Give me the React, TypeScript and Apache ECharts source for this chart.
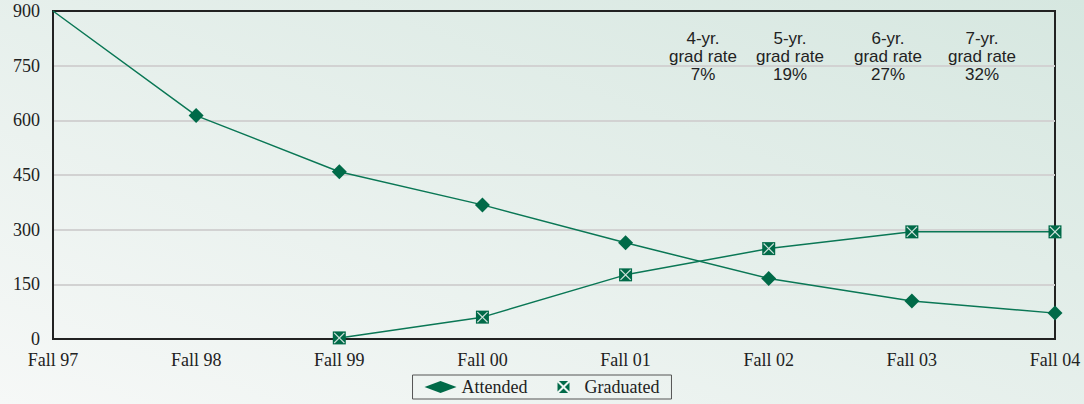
import React, { useEffect, useRef } from "react";
import * as echarts from "echarts";

const categories = ["Fall 97", "Fall 98", "Fall 99", "Fall 00", "Fall 01", "Fall 02", "Fall 03", "Fall 04"];
const attended = [900, 613, 459, 368, 264, 166, 104, 71];
const graduated = [null, null, 3, 60, 176, 248, 294, 294];
const yTicks = { min: 0, max: 900, interval: 150 };
const rateNotes = [
  { text: "4-yr.\ngrad rate\n7%", cx: 703 },
  { text: "5-yr.\ngrad rate\n19%", cx: 790 },
  { text: "6-yr.\ngrad rate\n27%", cx: 888 },
  { text: "7-yr.\ngrad rate\n32%", cx: 982 },
];

const GREEN = "#0a7755";
const MARK = "#006a48";
const legendSquare =
  "path://M1.2,0L8.8,0L5,3.8Z M10,1.2L10,8.8L6.2,5Z M8.8,10L1.2,10L5,6.2Z M0,8.8L0,1.2L3.8,5Z";
const whiteX =
  "path://M1,0.3L5,4.3L9,0.3L9.7,1L5.7,5L9.7,9L9,9.7L5,5.7L1,9.7L0.3,9L4.3,5L0.3,1Z";

export default function App() {
  const ref = useRef<HTMLDivElement>(null);
  useEffect(() => {
    if (!ref.current) return;
    const chart = echarts.init(ref.current, null, { renderer: "svg" });
    const serif = "'Liberation Serif', 'DejaVu Serif', serif";
    chart.setOption({
      animation: false,
      backgroundColor: {
        type: "linear",
        x: 0,
        y: 1,
        x2: 1,
        y2: 0,
        colorStops: [
          { offset: 0, color: "#f6f8f7" },
          { offset: 1, color: "#d6e7e0" },
        ],
      },
      grid: {
        left: 53,
        right: 29,
        top: 11,
        bottom: 65,
        show: true,
        borderColor: "#222",
        borderWidth: 2,
        backgroundColor: "transparent",
      },
      legend: {
        bottom: 5,
        left: "center",
        itemWidth: 32,
        itemHeight: 12,
        itemGap: 30,
        borderColor: "#555",
        borderWidth: 1,
        padding: [3, 12, 3, 12],
        textStyle: { fontFamily: serif, fontSize: 18, color: "#222" },
        data: [
          { name: "Attended", icon: "diamond" },
          { name: "Graduated", icon: legendSquare },
        ],
      },
      xAxis: [
        {
          type: "category",
          data: categories,
          boundaryGap: false,
          axisLine: { show: true, lineStyle: { color: "#222", width: 2 } },
          axisTick: { show: false },
          axisLabel: { fontFamily: serif, fontSize: 18, color: "#222", margin: 12 },
          splitLine: { show: false },
        },
        {
          type: "category",
          data: categories,
          boundaryGap: false,
          position: "top",
          axisLine: { show: true, lineStyle: { color: "#222", width: 2 } },
          axisTick: { show: false },
          axisLabel: { show: false },
          splitLine: { show: false },
        },
      ],
      yAxis: {
        type: "value",
        min: yTicks.min,
        max: yTicks.max,
        interval: yTicks.interval,
        axisLine: { show: true, lineStyle: { color: "#222", width: 2 } },
        axisTick: { show: false },
        axisLabel: { fontFamily: serif, fontSize: 18, color: "#222", margin: 13 },
        splitLine: { show: true, lineStyle: { color: "#d2d2d2", width: 2 } },
      },
      graphic: rateNotes.map((n) => ({
        type: "text",
        x: n.cx,
        y: 30,
        style: {
          text: n.text,
          fill: "#222",
          font: "17px 'Liberation Sans', Arial, sans-serif",
          textAlign: "center",
          lineHeight: 17.6,
        },
        z: 10,
      })),
      series: [
        {
          name: "Attended",
          type: "line",
          data: attended.map((v, i) => (i === 0 ? { value: v, symbol: "none" } : v)),
          symbol: "diamond",
          symbolSize: 15,
          lineStyle: { color: GREEN, width: 1.5 },
          itemStyle: { color: MARK },
          z: 3,
        },
        {
          name: "Graduated",
          type: "line",
          data: graduated,
          symbol: "rect",
          symbolSize: 13,
          lineStyle: { color: GREEN, width: 1.5 },
          itemStyle: { color: MARK },
          z: 3,
        },
        {
          name: "GraduatedX",
          type: "scatter",
          data: graduated,
          symbol: whiteX,
          symbolSize: 11,
          itemStyle: { color: "#ffffff" },
          silent: true,
          z: 4,
        },
      ],
    });
    return () => chart.dispose();
  }, []);
  return (
    <div
      ref={ref}
      style={{ position: "fixed", left: 0, top: 0, width: 1084, height: 404 }}
    />
  );
}
